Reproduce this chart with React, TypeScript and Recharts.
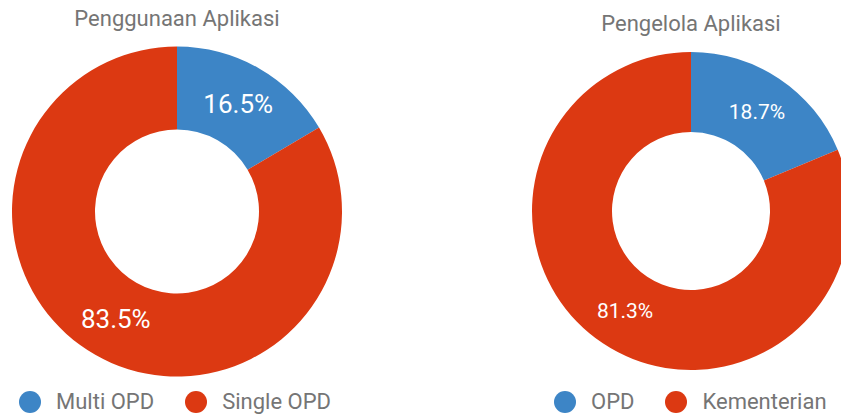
import React from "react";
import { PieChart, Pie, Cell } from "recharts";

const usageTitle = "Penggunaan Aplikasi";
const usageNames = ["Multi OPD", "Single OPD"];
const usageValues = [16.5, 83.5];

const managerTitle = "Pengelola Aplikasi";
const managerNames = ["OPD", "Kementerian"];
const managerValues = [18.7, 81.3];

const colors = ["#3d85c6", "#dc3912"];

const usageData = usageNames.map((name, i) => ({ name, value: usageValues[i] }));
const managerData = managerNames.map((name, i) => ({ name, value: managerValues[i] }));

const FONT = "Roboto, 'Noto Sans', sans-serif";
const RAD = Math.PI / 180;

const makeLabel = (fontSize: number) => (props: any) => {
  const { cx, cy, midAngle, innerRadius, outerRadius, percent } = props;
  const r = (innerRadius + outerRadius) / 2;
  const x = cx + r * Math.cos(-midAngle * RAD);
  const y = cy + r * Math.sin(-midAngle * RAD);
  return (
    <text
      x={x}
      y={y + fontSize * 0.355}
      fill="#ffffff"
      textAnchor="middle"
      style={{ fontFamily: FONT, fontSize }}
    >
      {(percent * 100).toFixed(1) + "%"}
    </text>
  );
};

function LegendRow({ names, left, top }: { names: string[]; left: number; top: number }) {
  return (
    <div
      style={{
        position: "absolute",
        left,
        top,
        display: "flex",
        alignItems: "center",
        fontFamily: FONT,
        fontSize: 22,
        lineHeight: "22px",
        color: "#757575",
        whiteSpace: "nowrap",
      }}
    >
      {names.map((n, i) => (
        <div key={n} style={{ display: "flex", alignItems: "center", marginRight: 31 }}>
          <div
            style={{
              width: 22,
              height: 22,
              borderRadius: 11,
              background: colors[i % colors.length],
              marginRight: 15,
            }}
          />
          <span>{n}</span>
        </div>
      ))}
    </div>
  );
}

function Title({ text, cx, top }: { text: string; cx: number; top: number }) {
  return (
    <div
      style={{
        position: "absolute",
        left: cx - 150,
        width: 300,
        top,
        textAlign: "center",
        fontFamily: FONT,
        fontSize: 22,
        lineHeight: "22px",
        color: "#757575",
        whiteSpace: "nowrap",
      }}
    >
      {text}
    </div>
  );
}

export default function App() {
  return (
    <div
      style={{
        position: "absolute",
        left: 0,
        top: 0,
        width: 841,
        height: 414,
        overflow: "hidden",
        background: "#ffffff",
      }}
    >
      <div style={{ position: "absolute", left: 0, top: 0 }}>
        <PieChart width={841} height={414} margin={{ top: 0, right: 0, bottom: 0, left: 0 }}>
          <Pie
            data={usageData}
            dataKey="value"
            nameKey="name"
            cx={177}
            cy={211.5}
            innerRadius={82}
            outerRadius={165}
            startAngle={90}
            endAngle={-270}
            stroke="none"
            label={makeLabel(26)}
            labelLine={false}
            isAnimationActive={false}
          >
            {usageData.map((d, i) => (
              <Cell key={d.name} fill={colors[i % colors.length]} />
            ))}
          </Pie>
        </PieChart>
      </div>
      <div style={{ position: "absolute", left: 0, top: 0 }}>
        <PieChart width={841} height={414} margin={{ top: 0, right: 0, bottom: 0, left: 0 }}>
          <Pie
            data={managerData}
            dataKey="value"
            nameKey="name"
            cx={691}
            cy={211}
            innerRadius={79}
            outerRadius={159}
            startAngle={90}
            endAngle={-270}
            stroke="none"
            label={makeLabel(21)}
            labelLine={false}
            isAnimationActive={false}
          >
            {managerData.map((d, i) => (
              <Cell key={d.name} fill={colors[i % colors.length]} />
            ))}
          </Pie>
        </PieChart>
      </div>
      <Title text={usageTitle} cx={177} top={8.2} />
      <Title text={managerTitle} cx={691} top={13.2} />
      <LegendRow names={usageNames} left={19} top={390.5} />
      <LegendRow names={managerNames} left={554} top={390.5} />
    </div>
  );
}
